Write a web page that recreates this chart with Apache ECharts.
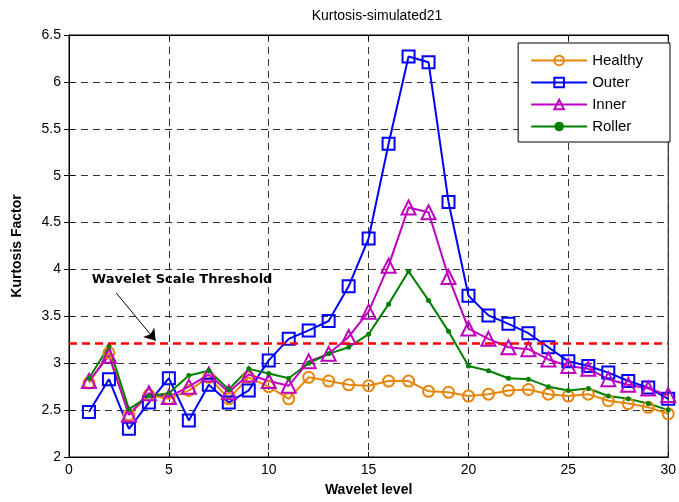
<!DOCTYPE html>
<html>
<head>
<meta charset="utf-8">
<script src="https://cdn.jsdelivr.net/npm/echarts@6/dist/echarts.min.js"></script>
<style>
  html, body { margin: 0; padding: 0; background: #fff; }
  #chart { width: 679px; height: 502px; }
</style>
</head>
<body>
<div id="chart"></div>
<script>
// wavelet levels 1..30
var levels = [];
for (var k = 1; k <= 30; k++) levels.push(k);

var healthy = [2.79, 3.11, 2.45, 2.66, 2.62, 2.71, 2.85, 2.62, 2.85, 2.75,
               2.62, 2.85, 2.81, 2.77, 2.76, 2.81, 2.81, 2.70, 2.69, 2.65,
               2.67, 2.71, 2.72, 2.67, 2.65, 2.67, 2.60, 2.57, 2.53, 2.46];
var outer   = [2.48, 2.83, 2.30, 2.58, 2.84, 2.39, 2.77, 2.58, 2.71, 3.03,
               3.26, 3.35, 3.45, 3.82, 4.33, 5.34, 6.27, 6.21, 4.72, 3.72,
               3.51, 3.42, 3.32, 3.17, 3.02, 2.97, 2.90, 2.81, 2.74, 2.62];
var inner   = [2.81, 3.08, 2.45, 2.68, 2.64, 2.75, 2.88, 2.69, 2.88, 2.81,
               2.76, 3.02, 3.10, 3.28, 3.55, 4.04, 4.66, 4.61, 3.92, 3.37,
               3.26, 3.17, 3.15, 3.04, 2.97, 2.94, 2.83, 2.77, 2.73, 2.66];
var roller  = [2.84, 3.18, 2.51, 2.65, 2.68, 2.87, 2.92, 2.72, 2.94, 2.89,
               2.84, 3.00, 3.10, 3.17, 3.31, 3.63, 3.98, 3.67, 3.34, 2.97,
               2.92, 2.84, 2.83, 2.75, 2.71, 2.73, 2.65, 2.62, 2.57, 2.50];

var threshold = 3.21;
var thresholdText = 'Wavelet Scale Threshold';
var arrowFrom = [2.36, 3.75];
var arrowTo = [4.34, 3.24];
var labelAt = [1.14, 3.89];

function zip(ys) {
    return ys.map(function (v, i) { return [levels[i], v]; });
}

var chart = echarts.init(document.getElementById('chart'));
var font = '"Liberation Sans", Arial, sans-serif';
var dashed = { color: '#333', type: [7, 5], width: 1 };

var option = {
    animation: false,
    textStyle: { fontFamily: font },
    title: {
        text: 'Kurtosis-simulated21',
        left: 372, top: 4, textAlign: 'center',
        textStyle: { fontFamily: font, fontSize: 14, fontWeight: 'normal', color: '#000' }
    },
    legend: {
        orient: 'vertical',
        right: 9, top: 43,
        padding: [10, 27, 8, 12],
        itemGap: 7,
        itemWidth: 56, itemHeight: 12,
        borderColor: '#000', borderWidth: 1,
        backgroundColor: '#fff',
        textStyle: { fontFamily: font, fontSize: 15, color: '#000' },
        data: ['Healthy', 'Outer', 'Inner', 'Roller']
    },
    grid: {
        left: 69, right: 4, top: 35, bottom: 44,
        show: true, borderColor: '#000', borderWidth: 1
    },
    xAxis: [{
        type: 'value', min: 0, max: 30, interval: 5,
        name: 'Wavelet level', nameLocation: 'middle', nameGap: 26,
        nameTextStyle: { fontFamily: font, fontSize: 14, fontWeight: 'bold', color: '#000' },
        axisLine: { lineStyle: { color: '#000' } },
        axisTick: { inside: true, length: 5, lineStyle: { color: '#000' } },
        axisLabel: { fontFamily: font, fontSize: 14, color: '#000', margin: 6 },
        splitLine: { show: true, lineStyle: dashed }
    }, {
        type: 'value', min: 0, max: 30, interval: 5, position: 'top',
        axisLine: { lineStyle: { color: '#000' } },
        axisTick: { inside: true, length: 5, lineStyle: { color: '#000' } },
        axisLabel: { show: false },
        splitLine: { show: false }
    }],
    yAxis: [{
        type: 'value', min: 2, max: 6.5, interval: 0.5,
        name: 'Kurtosis Factor', nameLocation: 'middle', nameGap: 45,
        nameTextStyle: { fontFamily: font, fontSize: 14, fontWeight: 'bold', color: '#000' },
        axisLine: { show: true, lineStyle: { color: '#000' } },
        axisTick: { show: true, inside: true, length: 5, lineStyle: { color: '#000' } },
        axisLabel: { fontFamily: font, fontSize: 14, color: '#000', margin: 8 },
        splitLine: { show: true, lineStyle: dashed }
    }, {
        type: 'value', min: 2, max: 6.5, interval: 0.5, position: 'right',
        axisLine: { show: true, lineStyle: { color: '#000' } },
        axisTick: { show: true, inside: true, length: 5, lineStyle: { color: '#000' } },
        axisLabel: { show: false },
        splitLine: { show: false }
    }],
    series: [{
        name: 'Healthy', type: 'line', data: zip(healthy),
        symbol: 'circle', symbolSize: 11,
        lineStyle: { color: '#E8850C', width: 2 },
        itemStyle: { color: 'rgba(255,255,255,0)', borderColor: '#E8850C', borderWidth: 2 },
        markLine: {
            silent: true, symbol: 'none',
            label: { show: false },
            lineStyle: { color: '#FF0000', type: [8, 5], width: 2.5 },
            data: [{ yAxis: threshold }]
        }
    }, {
        name: 'Outer', type: 'line', data: zip(outer),
        symbol: 'rect', symbolSize: 12,
        lineStyle: { color: '#0000FF', width: 2 },
        itemStyle: { color: 'rgba(255,255,255,0)', borderColor: '#0000FF', borderWidth: 2 }
    }, {
        name: 'Inner', type: 'line', data: zip(inner),
        symbol: 'triangle', symbolSize: 14,
        lineStyle: { color: '#C000C0', width: 2 },
        itemStyle: { color: 'rgba(255,255,255,0)', borderColor: '#C000C0', borderWidth: 2 }
    }, {
        name: 'Roller', type: 'line', data: zip(roller),
        symbol: 'circle', symbolSize: 5,
        lineStyle: { color: '#008000', width: 2 },
        itemStyle: { color: '#008000' }
    }, {
        // annotation: threshold label and arrow
        name: 'note', type: 'scatter', data: [labelAt],
        symbol: 'circle', symbolSize: 0,
        itemStyle: { color: '#000', opacity: 1 },
        silent: true, z: 5,
        label: {
            show: true, formatter: thresholdText, position: 'right', distance: 0,
            fontFamily: '"DejaVu Sans", Verdana, sans-serif', fontSize: 13,
            fontWeight: 'bold', color: '#000', opacity: 1
        },
        markLine: {
            silent: true,
            symbol: ['none', 'arrow'], symbolSize: 11,
            label: { show: false },
            lineStyle: { color: '#000', type: 'solid', width: 1 },
            data: [[{ coord: arrowFrom }, { coord: arrowTo }]]
        }
    }]
};

chart.setOption(option);
</script>
</body>
</html>
